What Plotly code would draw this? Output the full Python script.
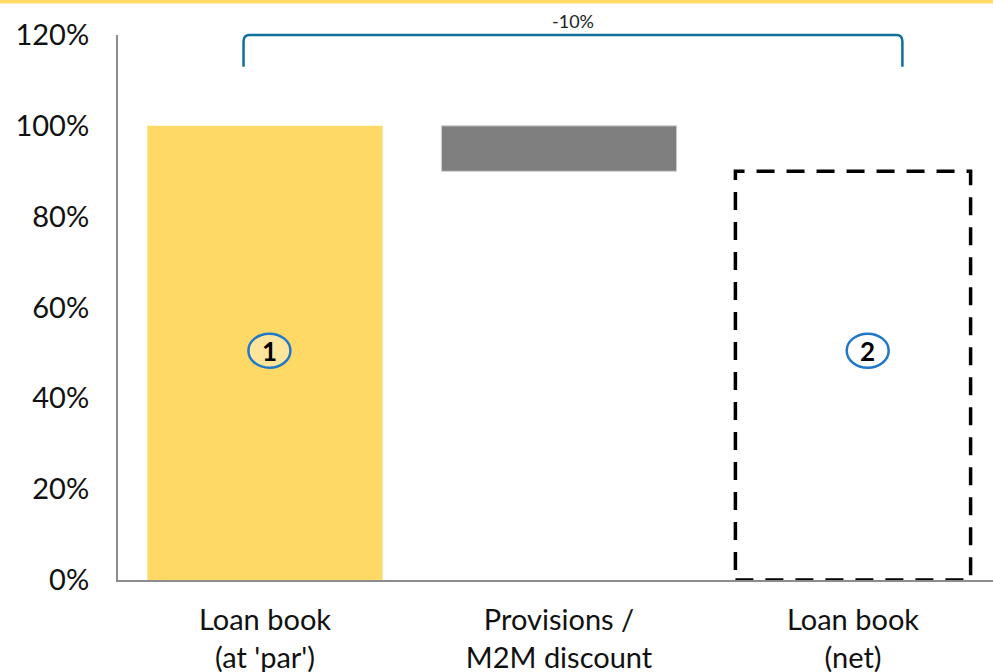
import plotly.graph_objects as go

# Loan book bridge: gross book, provisions / mark-to-market, net book
categories = ["Loan book<br>(at 'par')", "Provisions /<br>M2M discount", "Loan book<br>(net)"]
gross_value = 100
discount_value = -10
net_value = gross_value + discount_value
y_ticks = [0, 20, 40, 60, 80, 100, 120]
y_tick_labels = [f"{v}%" for v in y_ticks]

YELLOW = "#FFD966"
GREY = "#7F7F7F"
BLUE = "#0E6F9B"
CIRCLE_BLUE = "#1F78C8"
AXIS = "#8C8C8C"
FONT = "Lato, 'Open Sans', sans-serif"
BAR_W = 0.8
x = [0, 1, 2]

fig = go.Figure()

# gross book
fig.add_trace(go.Bar(x=[x[0]], y=[gross_value], width=BAR_W,
                     marker=dict(color=YELLOW, line=dict(width=0)),
                     hoverinfo="skip", showlegend=False))
# discount (floating bar)
fig.add_trace(go.Bar(x=[x[1]], y=[-discount_value], base=[net_value], width=BAR_W,
                     marker=dict(color=GREY, line=dict(color="#D0D0D0", width=1)),
                     hoverinfo="skip", showlegend=False))
# net book: invisible bar, outlined by a dashed rectangle
fig.add_trace(go.Bar(x=[x[2]], y=[net_value], width=BAR_W,
                     marker=dict(color="rgba(0,0,0,0)", line=dict(width=0)),
                     hoverinfo="skip", showlegend=False))

shapes = []
shapes.append(dict(type="rect", xref="x", yref="y",
                   x0=x[2] - BAR_W / 2, x1=x[2] + BAR_W / 2, y0=0, y1=net_value,
                   line=dict(color="black", width=3.5, dash="18px,12px"),
                   fillcolor="rgba(0,0,0,0)", layer="above"))

# bracket spanning gross -> net, sitting on the top of the axis range
ymax = y_ticks[-1]
top = 1.0
leg = 113 / ymax
bx0, bx1 = x[0] - 0.073, x[2] + 0.168
r_x, r_y = 0.02, 0.012
path = (f"M {bx0},{leg} L {bx0},{top - r_y} Q {bx0},{top} {bx0 + r_x},{top} "
        f"L {bx1 - r_x},{top} Q {bx1},{top} {bx1},{top - r_y} L {bx1},{leg}")
shapes.append(dict(type="path", xref="x", yref="paper", path=path,
                   line=dict(color=BLUE, width=2.5), layer="above"))

# yellow rule at the very top of the page
shapes.append(dict(type="line", xref="paper", yref="paper",
                   x0=-0.2, x1=1.2, y0=1 + 33.5 / 545, y1=1 + 33.5 / 545,
                   line=dict(color=YELLOW, width=4)))

# numbered markers
markers = [(x[0] + 0.015, "1", "#FFE59C"), (x[2] + 0.05, "2", "white")]
annotations = []
for mx, label, fill in markers:
    shapes.append(dict(type="circle", xref="x", yref="y",
                       xsizemode="pixel", ysizemode="pixel",
                       xanchor=mx, yanchor=net_value / 2 + 5.5,
                       x0=-21, x1=21, y0=-17, y1=17,
                       line=dict(color=CIRCLE_BLUE, width=2.5),
                       fillcolor=fill, layer="above"))
    annotations.append(dict(x=mx, y=net_value / 2 + 5.5, xref="x", yref="y",
                            text=f"<b>{label}</b>", showarrow=False,
                            font=dict(family=FONT, size=26, color="black")))

annotations.append(dict(x=(bx0 + bx1) / 2, y=1.0, xref="x", yref="paper",
                        text=f"{discount_value}%", showarrow=False,
                        yanchor="bottom", yshift=1,
                        font=dict(family=FONT, size=18, color="#222222")))

fig.update_layout(
    width=993, height=672,
    margin=dict(l=118, r=0, t=35, b=92),
    paper_bgcolor="white", plot_bgcolor="white",
    font=dict(family=FONT, size=29, color="#111111"),
    barmode="overlay",
    shapes=shapes, annotations=annotations,
    xaxis=dict(range=[-0.5, -0.5 + 875 / 294], tickmode="array", tickvals=x,
               ticktext=categories, showgrid=False, zeroline=False,
               showline=True, linecolor=AXIS, linewidth=2, ticks="",
               automargin=False,
               ticklabelstandoff=13, tickfont=dict(size=29)),
    yaxis=dict(range=[0, ymax], tickmode="array", tickvals=y_ticks,
               ticktext=y_tick_labels, showgrid=False, zeroline=False,
               showline=True, linecolor=AXIS, linewidth=2, ticks="",
               automargin=False,
               ticklabelstandoff=21, tickfont=dict(size=29)),
)

fig.write_html("out.html")
